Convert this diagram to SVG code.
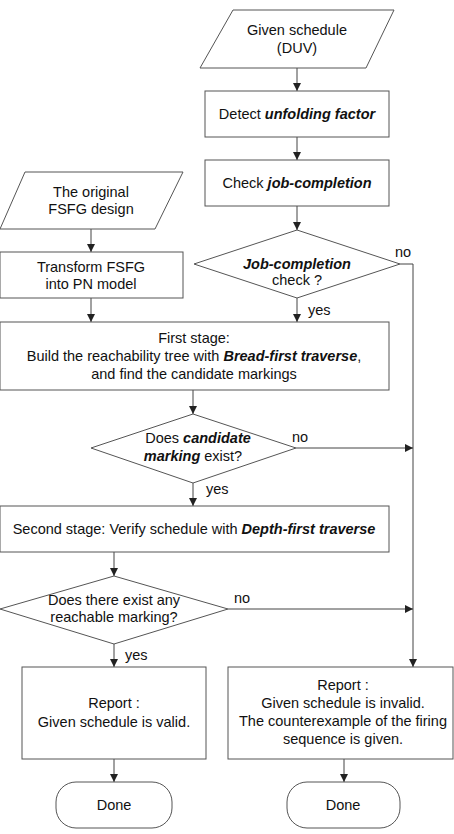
<svg xmlns="http://www.w3.org/2000/svg" width="454" height="834" viewBox="0 0 454 834">
<style>
.s{fill:#fff;stroke:#555;stroke-width:1}
.c{fill:none;stroke:#444;stroke-width:1}
text{font-family:"Liberation Sans",Arial,sans-serif;font-size:14.5px;fill:#111;text-anchor:middle}
.bi{font-weight:bold;font-style:italic}
.l{text-anchor:start}
</style>
<defs>
<marker id="a" viewBox="0 0 10 10" refX="10" refY="5" markerWidth="8" markerHeight="8" markerUnits="userSpaceOnUse" orient="auto">
<path d="M0,0 L10,5 L0,10 z" fill="#222"/>
</marker>
</defs>
<g id="connectors">
<path class="c" d="M297,68 V91" marker-end="url(#a)"/>
<path class="c" d="M297,137 V160" marker-end="url(#a)"/>
<path class="c" d="M297,206 V230" marker-end="url(#a)"/>
<path class="c" d="M91,229 V252" marker-end="url(#a)"/>
<path class="c" d="M91,298 V322" marker-end="url(#a)"/>
<path class="c" d="M297,298 V322" marker-end="url(#a)"/>
<path class="c" d="M400,264 H413 V667" marker-end="url(#a)"/>
<path class="c" d="M193,390 V414" marker-end="url(#a)"/>
<path class="c" d="M296,448 H413" marker-end="url(#a)"/>
<path class="c" d="M193,483 V506" marker-end="url(#a)"/>
<path class="c" d="M114,552 V576" marker-end="url(#a)"/>
<path class="c" d="M228,609 H413" marker-end="url(#a)"/>
<path class="c" d="M114,644 V667" marker-end="url(#a)"/>
<path class="c" d="M114,759 V782" marker-end="url(#a)"/>
<path class="c" d="M344,759 V782" marker-end="url(#a)"/>
<text class="l" x="395" y="257">no</text>
<text class="l" x="308" y="315">yes</text>
<text class="l" x="292" y="442">no</text>
<text class="l" x="206" y="494">yes</text>
<text class="l" x="234" y="603">no</text>
<text class="l" x="125" y="660">yes</text>
</g>
<g id="given">
<polygon class="s" points="233,10 394,10 366,68 200,68"/>
<text x="297" y="35">Given schedule</text>
<text x="297" y="53">(DUV)</text>
</g>
<g id="detect">
<rect class="s" x="205" y="91" width="184" height="46"/>
<text x="297" y="119">Detect <tspan class="bi">unfolding factor</tspan></text>
</g>
<g id="check">
<rect class="s" x="205" y="160" width="184" height="46"/>
<text x="297" y="188">Check <tspan class="bi">job-completion</tspan></text>
</g>
<g id="original">
<polygon class="s" points="25,172 183,172 155,229 0,229"/>
<text x="91" y="197">The original</text>
<text x="91" y="214">FSFG design</text>
</g>
<g id="transform">
<rect class="s" x="0" y="252" width="183" height="46"/>
<text x="91" y="272">Transform FSFG</text>
<text x="91" y="289">into PN model</text>
</g>
<g id="jobcheck">
<polygon class="s" points="297,230 400,264 297,298 194,264"/>
<text class="bi" x="297" y="269">Job-completion</text>
<text x="297" y="285">check ?</text>
</g>
<g id="first">
<rect class="s" x="0" y="322" width="389" height="68"/>
<text x="194" y="343">First stage:</text>
<text x="194" y="361">Build the reachability tree with <tspan class="bi">Bread-first traverse</tspan>,</text>
<text x="194" y="379">and find the candidate markings</text>
</g>
<g id="candidate">
<polygon class="s" points="193,414 296,448 193,483 91,448"/>
<text x="198" y="443">Does <tspan class="bi">candidate</tspan></text>
<text x="193" y="461"><tspan class="bi">marking</tspan> exist?</text>
</g>
<g id="second">
<rect class="s" x="0" y="506" width="389" height="46"/>
<text x="194" y="534">Second stage: Verify schedule with <tspan class="bi">Depth-first traverse</tspan></text>
</g>
<g id="reachable">
<polygon class="s" points="114,576 228,609 114,644 0,609"/>
<text x="114" y="605">Does there exist any</text>
<text x="114" y="622">reachable marking?</text>
</g>
<g id="valid">
<rect class="s" x="22" y="667" width="184" height="92"/>
<text x="114" y="708">Report :</text>
<text x="114" y="727">Given schedule is valid.</text>
</g>
<g id="invalid">
<rect class="s" x="228" y="667" width="225" height="92"/>
<text x="343" y="690">Report :</text>
<text x="343" y="708">Given schedule is invalid.</text>
<text x="343" y="726">The counterexample of the firing</text>
<text x="343" y="744">sequence is given.</text>
</g>
<g id="done1">
<rect class="s" x="56" y="782" width="116" height="46" rx="20"/>
<text x="114" y="810">Done</text>
</g>
<g id="done2">
<rect class="s" x="287" y="782" width="113" height="46" rx="20"/>
<text x="343" y="810">Done</text>
</g>
</svg>
